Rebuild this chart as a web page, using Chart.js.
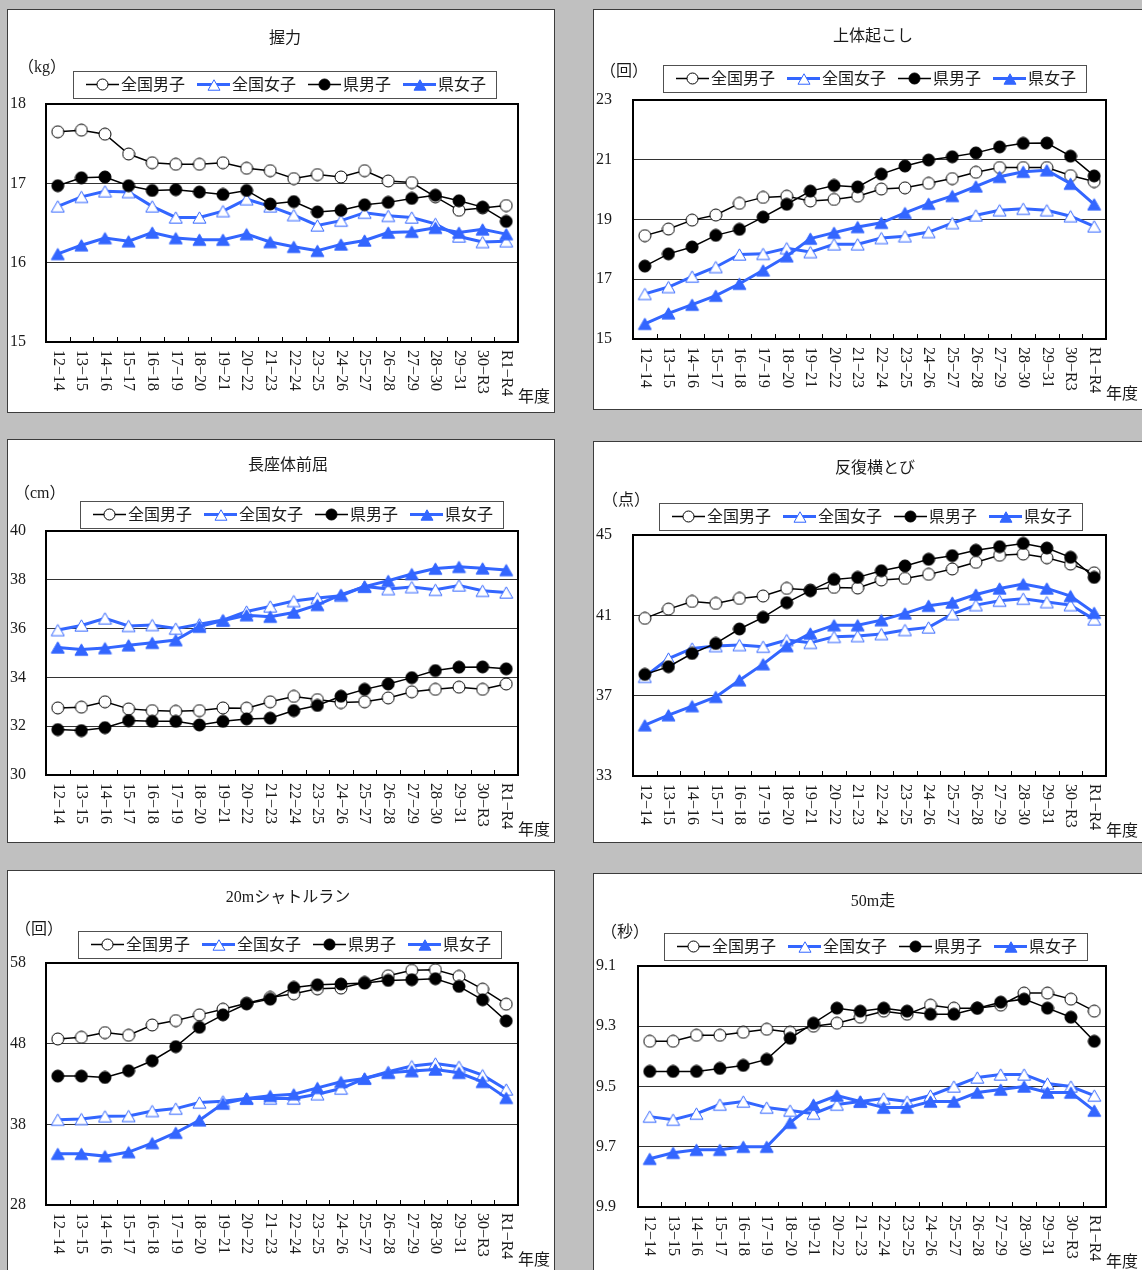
<!DOCTYPE html>
<html>
<head>
<meta charset="utf-8">
<script src="https://cdn.jsdelivr.net/npm/chart.js@4/dist/chart.umd.min.js"></script>
<style>
  html, body { margin: 0; padding: 0; overflow: hidden; }
  body { background: #c0c0c0; width: 1142px; height: 1270px; position: relative; }
  .panel { position: absolute; background: #fff; border: 1px solid #3c3c3c; box-sizing: border-box; overflow: hidden; }
  .panel canvas { position: absolute; left: 0; top: 0; }
</style>
</head>
<body>
<script>
const years = ['12−14', '13−15', '14−16', '15−17', '16−18', '17−19', '18−20', '19−21', '20−22', '21−23',
  '22−24', '23−25', '24−26', '25−27', '26−28', '27−29', '28−30', '29−31', '30−R3', 'R1−R4'];
const seriesNames = ['全国男子', '全国女子', '県男子', '県女子'];

// 握力 (kg)
const gripNationalBoys = [17.65, 17.67, 17.62, 17.37, 17.26, 17.24, 17.24, 17.26, 17.19, 17.16, 17.06, 17.11, 17.08, 17.16, 17.03, 17.01, 16.83, 16.66, 16.69, 16.72];
const gripNationalGirls = [16.71, 16.83, 16.90, 16.89, 16.71, 16.57, 16.57, 16.65, 16.80, 16.71, 16.60, 16.47, 16.53, 16.63, 16.59, 16.57, 16.49, 16.33, 16.26, 16.27];
const gripPrefBoys = [16.97, 17.07, 17.08, 16.97, 16.91, 16.92, 16.89, 16.86, 16.91, 16.74, 16.77, 16.64, 16.66, 16.73, 16.76, 16.81, 16.85, 16.78, 16.70, 16.52];
const gripPrefGirls = [16.11, 16.22, 16.31, 16.27, 16.38, 16.31, 16.29, 16.29, 16.36, 16.26, 16.20, 16.15, 16.23, 16.28, 16.38, 16.39, 16.44, 16.38, 16.42, 16.36];

// 上体起こし (回)
const situpNationalBoys = [18.46, 18.68, 18.98, 19.15, 19.54, 19.74, 19.78, 19.62, 19.67, 19.78, 20.02, 20.06, 20.21, 20.37, 20.58, 20.74, 20.74, 20.74, 20.47, 20.27];
const situpNationalGirls = [16.51, 16.74, 17.09, 17.41, 17.83, 17.85, 18.04, 17.91, 18.17, 18.17, 18.38, 18.44, 18.58, 18.88, 19.14, 19.31, 19.36, 19.31, 19.11, 18.77];
const situpPrefBoys = [17.44, 17.85, 18.08, 18.47, 18.67, 19.08, 19.51, 19.95, 20.14, 20.09, 20.52, 20.79, 20.99, 21.10, 21.23, 21.43, 21.55, 21.56, 21.12, 20.46];
const situpPrefGirls = [15.51, 15.86, 16.15, 16.45, 16.85, 17.30, 17.77, 18.36, 18.56, 18.75, 18.89, 19.22, 19.53, 19.79, 20.11, 20.43, 20.60, 20.65, 20.20, 19.51];

// 長座体前屈 (cm)
const reachNationalBoys = [32.75, 32.78, 33.00, 32.71, 32.64, 32.61, 32.64, 32.75, 32.74, 33.00, 33.22, 33.09, 32.97, 33.00, 33.16, 33.41, 33.51, 33.60, 33.51, 33.73];
const reachNationalGirls = [35.94, 36.13, 36.42, 36.11, 36.15, 36.00, 36.18, 36.35, 36.70, 36.91, 37.13, 37.25, 37.35, 37.73, 37.62, 37.70, 37.59, 37.77, 37.55, 37.48];
const reachPrefBoys = [31.86, 31.82, 31.94, 32.23, 32.20, 32.20, 32.05, 32.20, 32.30, 32.33, 32.64, 32.85, 33.23, 33.51, 33.73, 33.99, 34.28, 34.42, 34.43, 34.35];
const reachPrefGirls = [35.23, 35.14, 35.20, 35.32, 35.42, 35.53, 36.08, 36.33, 36.55, 36.49, 36.66, 36.97, 37.39, 37.72, 37.96, 38.24, 38.46, 38.53, 38.47, 38.40];

// 反復横とび (点)
const stepNationalBoys = [40.85, 41.31, 41.69, 41.59, 41.84, 41.96, 42.34, 42.26, 42.39, 42.36, 42.76, 42.84, 43.04, 43.31, 43.64, 43.99, 44.05, 43.87, 43.55, 43.12];
const stepNationalGirls = [37.94, 38.85, 39.35, 39.47, 39.52, 39.44, 39.77, 39.63, 39.93, 39.97, 40.07, 40.27, 40.40, 41.06, 41.51, 41.73, 41.83, 41.66, 41.51, 40.80];
const stepPrefBoys = [38.06, 38.44, 39.10, 39.60, 40.32, 40.90, 41.63, 42.23, 42.79, 42.89, 43.22, 43.46, 43.79, 43.97, 44.24, 44.42, 44.58, 44.35, 43.89, 42.89];
const stepPrefGirls = [35.53, 36.03, 36.48, 36.94, 37.77, 38.57, 39.47, 40.10, 40.51, 40.51, 40.76, 41.10, 41.48, 41.64, 42.04, 42.34, 42.56, 42.34, 41.96, 41.13];

// 20mシャトルラン (回)
const shuttleNationalBoys = [48.58, 48.79, 49.37, 49.04, 50.32, 50.86, 51.57, 52.27, 53.02, 53.73, 54.18, 54.80, 54.89, 55.59, 56.42, 57.09, 57.17, 56.34, 54.76, 52.90];
const shuttleNationalGirls = [38.58, 38.66, 39.00, 39.04, 39.66, 39.95, 40.70, 40.86, 41.20, 41.20, 41.20, 41.73, 42.44, 43.68, 44.51, 45.22, 45.55, 45.14, 44.10, 42.32];
const shuttlePrefBoys = [43.98, 43.98, 43.81, 44.64, 45.88, 47.63, 50.03, 51.57, 52.94, 53.52, 54.97, 55.30, 55.39, 55.51, 55.84, 55.93, 56.05, 55.10, 53.44, 50.82];
const shuttlePrefGirls = [34.35, 34.35, 34.06, 34.56, 35.68, 36.96, 38.50, 40.57, 41.20, 41.53, 41.73, 42.52, 43.27, 43.68, 44.39, 44.60, 44.80, 44.39, 43.27, 41.28];

// 50m走 (秒)
const dashNationalBoys = [9.35, 9.35, 9.33, 9.33, 9.32, 9.31, 9.32, 9.30, 9.29, 9.27, 9.25, 9.26, 9.23, 9.24, 9.24, 9.23, 9.19, 9.19, 9.21, 9.25];
const dashNationalGirls = [9.60, 9.61, 9.59, 9.56, 9.55, 9.57, 9.58, 9.59, 9.56, 9.55, 9.54, 9.55, 9.53, 9.50, 9.47, 9.46, 9.46, 9.49, 9.50, 9.53];
const dashPrefBoys = [9.45, 9.45, 9.45, 9.44, 9.43, 9.41, 9.34, 9.29, 9.24, 9.25, 9.24, 9.25, 9.26, 9.26, 9.24, 9.22, 9.21, 9.24, 9.27, 9.35];
const dashPrefGirls = [9.74, 9.72, 9.71, 9.71, 9.70, 9.70, 9.62, 9.56, 9.53, 9.55, 9.57, 9.57, 9.55, 9.55, 9.52, 9.51, 9.50, 9.52, 9.52, 9.58];

const BLUE = '#3366ff';
const FONT = "'Liberation Serif', 'Noto Sans CJK JP', serif";
const TEXT = '#1a1a1a';

// marker pictures, centred on their box like the spreadsheet markers
function marker(shape, fill, stroke, size) {
  const c = document.createElement('canvas');
  c.width = size + 2;
  c.height = size + 2;
  const g = c.getContext('2d');
  const m = c.width / 2;
  g.beginPath();
  if (shape === 'circle') {
    g.arc(m, m, size / 2, 0, Math.PI * 2);
  } else {
    const h = size * 0.87;
    g.moveTo(m, m - h / 2);
    g.lineTo(m + size / 2, m + h / 2);
    g.lineTo(m - size / 2, m + h / 2);
    g.closePath();
  }
  g.fillStyle = fill;
  g.fill();
  g.lineWidth = 1;
  g.strokeStyle = stroke;
  g.stroke();
  return c;
}

const styles = [
  { color: '#000', width: 1.5, order: 4, pt: marker('circle', '#fff', '#000', 12), lg: marker('circle', '#fff', '#000', 11) },
  { color: BLUE, width: 3, order: 3, pt: marker('triangle', '#fff', BLUE, 13), lg: marker('triangle', '#fff', BLUE, 12) },
  { color: '#000', width: 1.5, order: 2, pt: marker('circle', '#000', '#000', 12), lg: marker('circle', '#000', '#000', 11) },
  { color: BLUE, width: 3, order: 1, pt: marker('triangle', BLUE, BLUE, 13), lg: marker('triangle', BLUE, BLUE, 12) },
];

// page positions: box = panel frame, plot = chart area, the rest text anchors
const panels = [
  { title: '握力', unit: '（kg）', box: [7, 9, 548, 404], plot: [46, 104, 518, 342],
    titleAt: [285, 39], unitAt: [18, 68], legendAt: [73, 71],
    y: { min: 15, max: 18, step: 1 },
    values: [gripNationalBoys, gripNationalGirls, gripPrefBoys, gripPrefGirls] },
  { title: '上体起こし', unit: '（回）', box: [593, 9, 560, 401], plot: [633, 100, 1106, 339],
    titleAt: [873, 37], unitAt: [600, 72], legendAt: [663, 65],
    y: { min: 15, max: 23, step: 2 },
    values: [situpNationalBoys, situpNationalGirls, situpPrefBoys, situpPrefGirls] },
  { title: '長座体前屈', unit: '（cm）', box: [7, 439, 548, 404], plot: [46, 531, 518, 775],
    titleAt: [288, 466], unitAt: [14, 494], legendAt: [80, 501],
    y: { min: 30, max: 40, step: 2 },
    values: [reachNationalBoys, reachNationalGirls, reachPrefBoys, reachPrefGirls] },
  { title: '反復横とび', unit: '（点）', box: [593, 441, 560, 402], plot: [633, 535, 1106, 776],
    titleAt: [875, 469], unitAt: [602, 501], legendAt: [659, 503],
    y: { min: 33, max: 45, step: 4 },
    values: [stepNationalBoys, stepNationalGirls, stepPrefBoys, stepPrefGirls] },
  { title: '20mシャトルラン', unit: '（回）', box: [7, 870, 548, 420], plot: [46, 963, 518, 1205],
    titleAt: [288, 898], unitAt: [15, 930], legendAt: [78, 931],
    y: { min: 28, max: 58, step: 10 },
    values: [shuttleNationalBoys, shuttleNationalGirls, shuttlePrefBoys, shuttlePrefGirls] },
  { title: '50m走', unit: '（秒）', box: [593, 873, 560, 420], plot: [638, 966, 1106, 1207],
    titleAt: [873, 902], unitAt: [601, 933], legendAt: [664, 933],
    y: { min: 9.1, max: 9.9, step: 0.2, reverse: true },
    values: [dashNationalBoys, dashNationalGirls, dashPrefBoys, dashPrefGirls] },
];

function decor(p, ox, oy) {
  return {
    id: 'decor',
    beforeDatasetsDraw(chart) {
      const { ctx, chartArea: a } = chart;
      const x = chart.scales.x;
      ctx.save();
      ctx.strokeStyle = '#000';
      ctx.lineWidth = 1;
      ctx.beginPath();
      for (let i = 0; i < years.length - 1; i++) {
        const px = Math.round(x.getPixelForValue(i + 0.5)) + 0.5;
        ctx.moveTo(px, a.bottom);
        ctx.lineTo(px, a.bottom - 5);
      }
      ctx.stroke();
      ctx.lineWidth = 2;
      ctx.strokeRect(a.left, a.top, a.right - a.left, a.bottom - a.top);
      ctx.restore();
    },
    afterDraw(chart) {
      const { ctx, chartArea: a } = chart;
      const x = chart.scales.x;
      ctx.save();
      ctx.fillStyle = TEXT;
      ctx.font = '16px ' + FONT;
      ctx.textBaseline = 'middle';

      ctx.textAlign = 'center';
      ctx.fillText(p.title, p.titleAt[0] - ox, p.titleAt[1] - oy);

      ctx.textAlign = 'left';
      ctx.fillText(p.unit, p.unitAt[0] - ox, p.unitAt[1] - oy);
      ctx.fillText('年度', a.right, a.bottom + 56);

      // category labels, turned to read downwards
      years.forEach((lab, i) => {
        ctx.save();
        ctx.translate(x.getPixelForValue(i), a.bottom + 8);
        ctx.rotate(Math.PI / 2);
        ctx.fillText(lab, 0, 0);
        ctx.restore();
      });

      // legend box
      const lx = p.legendAt[0] - ox, ly = p.legendAt[1] - oy, lh = 27;
      const cy = ly + lh / 2;
      let cx = lx + 13;
      chart.data.datasets.forEach((ds, i) => {
        const s = styles[i];
        ctx.beginPath();
        ctx.strokeStyle = s.color;
        ctx.lineWidth = s.width;
        ctx.moveTo(cx, cy);
        ctx.lineTo(cx + 33, cy);
        ctx.stroke();
        ctx.drawImage(s.lg, Math.round(cx + 16.5 - s.lg.width / 2), Math.round(cy - s.lg.height / 2));
        ctx.fillStyle = TEXT;
        ctx.fillText(ds.label, cx + 35, cy + 1);
        cx += 35 + ctx.measureText(ds.label).width + (i < 3 ? 12 : 10);
      });
      ctx.strokeStyle = '#505050';
      ctx.lineWidth = 1;
      ctx.strokeRect(lx + 0.5, ly + 0.5, cx - lx, lh);
      ctx.restore();
    }
  };
}

panels.forEach((p) => {
  const [bx, by, bw, bh] = p.box;
  const div = document.createElement('div');
  div.className = 'panel';
  div.style.left = bx + 'px';
  div.style.top = by + 'px';
  div.style.width = bw + 'px';
  div.style.height = bh + 'px';
  const canvas = document.createElement('canvas');
  const cw = bw - 2, ch = bh - 2;
  canvas.width = cw;
  canvas.height = ch;
  canvas.style.width = cw + 'px';
  canvas.style.height = ch + 'px';
  div.appendChild(canvas);
  document.body.appendChild(div);

  const ox = bx + 1, oy = by + 1;
  const [pl, pt, pr, pb] = p.plot;
  const yWidth = pl - ox - 2;

  new Chart(canvas, {
    type: 'line',
    data: {
      labels: years,
      datasets: p.values.map((vals, i) => ({
        label: seriesNames[i],
        data: vals,
        borderColor: styles[i].color,
        backgroundColor: styles[i].color,
        borderWidth: styles[i].width,
        pointStyle: styles[i].pt,
        pointRadius: 6,
        pointHoverRadius: 6,
        tension: 0,
        fill: false,
        order: styles[i].order,
      })),
    },
    options: {
      responsive: false,
      animation: false,
      events: [],
      layout: {
        padding: { left: 2, top: pt - oy, right: cw - (pr - ox), bottom: ch - (pb - oy) },
      },
      plugins: {
        legend: { display: false },
        title: { display: false },
        tooltip: { enabled: false },
      },
      scales: {
        x: {
          type: 'category',
          offset: true,
          grid: { display: false },
          border: { display: false },
          ticks: { display: false },
          afterFit: (s) => { s.height = 0; },
        },
        y: {
          min: p.y.min,
          max: p.y.max,
          reverse: !!p.y.reverse,
          ticks: {
            stepSize: p.y.step,
            color: TEXT,
            font: { family: FONT, size: 16 },
            crossAlign: 'far',
            padding: 0,
          },
          grid: { color: '#333', lineWidth: 1, drawTicks: false },
          border: { display: false },
          afterFit: (s) => { s.width = yWidth; },
        },
      },
    },
    plugins: [decor(p, ox, oy)],
  });
});
</script>
</body>
</html>
